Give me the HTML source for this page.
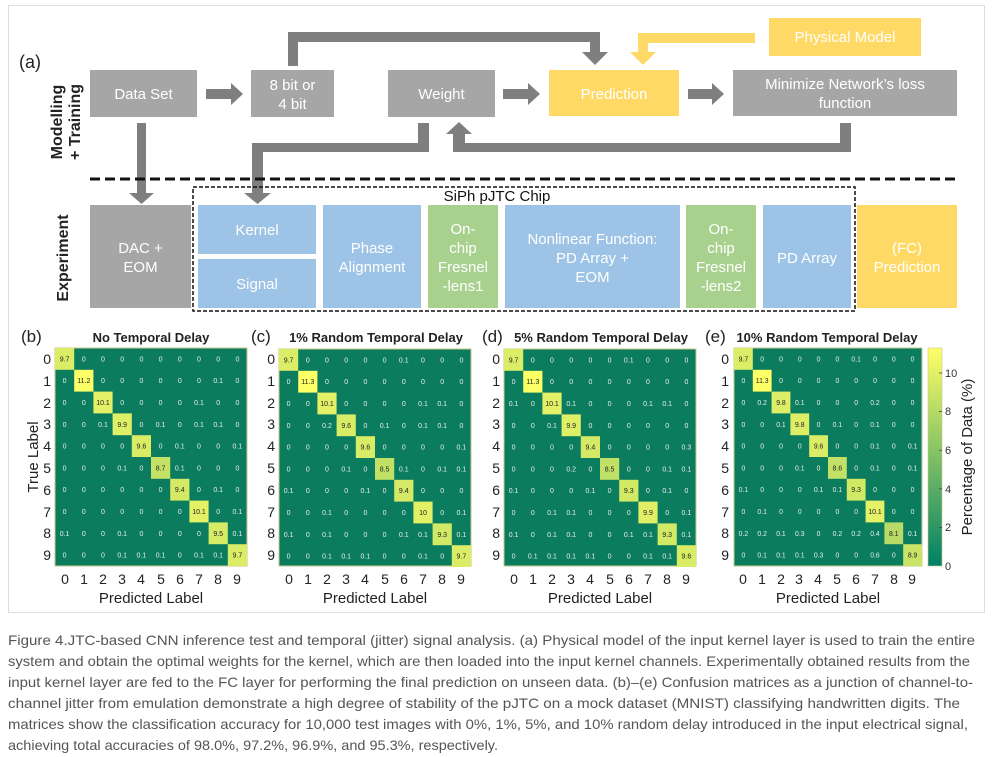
<!DOCTYPE html>
<html><head><meta charset="utf-8"><style>
html,body{margin:0;padding:0;background:#fff;width:995px;height:757px;overflow:hidden}
svg{display:block;font-family:"Liberation Sans",Arial,sans-serif}
.bx{fill:#fff;font-size:15px;text-anchor:middle}
.m text{font-size:7px;text-anchor:middle;fill:#e8efe9}
.m .dg{fill:#222}
.rl{font-size:14px;text-anchor:end;fill:#222}
.cl{font-size:14px;text-anchor:middle;fill:#222}
.tt{font-size:13px;font-weight:bold;text-anchor:middle;fill:#222}
.pl{font-size:17px;fill:#222}
.cap{font-size:14px;fill:#555}
</style></head><body>
<svg width="995" height="757" viewBox="0 0 995 757" xmlns="http://www.w3.org/2000/svg">
<rect x="8.5" y="5.5" width="976" height="607" fill="#fff" stroke="#ddd"/>
<!-- (a) -->
<text x="19" y="68" font-size="18" fill="#222">(a)</text>
<text transform="translate(62,122) rotate(-90)" font-size="16" font-weight="bold" text-anchor="middle" fill="#222">Modelling</text>
<text transform="translate(80,122) rotate(-90)" font-size="16" font-weight="bold" text-anchor="middle" fill="#222">+ Training</text>
<text transform="translate(68,258) rotate(-90)" font-size="16" font-weight="bold" text-anchor="middle" fill="#222">Experiment</text>

<!-- connectors -->
<g fill="#7f7f7f">
<rect x="288" y="32" width="10" height="34"/><rect x="288" y="32" width="312" height="10"/><rect x="590" y="32" width="10" height="22"/><polygon points="582,52 608,52 595,65"/>
<rect x="840" y="123" width="11" height="29"/><rect x="453" y="143" width="398" height="9"/><rect x="453" y="132" width="12" height="20"/><polygon points="446,134 472,134 459,122"/>
<rect x="418" y="123" width="11" height="29"/><rect x="252" y="143" width="177" height="9"/><rect x="252" y="143" width="11" height="52"/><polygon points="244,193 271,193 257.5,204"/>
<rect x="137" y="123" width="9" height="72"/><polygon points="129,193 154,193 141.5,204"/>
<rect x="206" y="89" width="26" height="10"/><polygon points="231,83 243,94 231,105"/>
<rect x="503" y="89" width="26" height="10"/><polygon points="528,83 540,94 528,105"/>
<rect x="688" y="89" width="25" height="10"/><polygon points="712,83 724,94 712,105"/>
</g>
<g fill="#ffd966"><rect x="638" y="33" width="117" height="10"/><rect x="638" y="33" width="10" height="21"/><polygon points="630,52 656,52 643,65"/></g>

<!-- top boxes -->
<rect x="90" y="70" width="107" height="47" fill="#a6a6a6"/><text class="bx" x="143.5" y="99">Data Set</text>
<rect x="251" y="70" width="83" height="47" fill="#a6a6a6"/><text class="bx" x="292.5" y="90">8 bit or</text><text class="bx" x="292.5" y="109">4 bit</text>
<rect x="388" y="70" width="107" height="47" fill="#a6a6a6"/><text class="bx" x="441.5" y="99">Weight</text>
<rect x="549" y="70" width="130" height="46" fill="#ffd966"/><text class="bx" x="614" y="99">Prediction</text>
<rect x="733" y="70" width="224" height="46" fill="#a6a6a6"/><text class="bx" x="845" y="89">Minimize Network’s loss</text><text class="bx" x="845" y="108">function</text>
<rect x="769" y="18" width="152" height="38" fill="#ffd966"/><text class="bx" x="845" y="42">Physical Model</text>

<line x1="90" y1="179" x2="957" y2="179" stroke="#111" stroke-width="3" stroke-dasharray="10,5"/>
<rect x="193" y="187" width="662" height="124" fill="none" stroke="#111" stroke-width="1.5" stroke-dasharray="4,2"/>
<text x="497" y="201" font-size="15" text-anchor="middle" fill="#111">SiPh pJTC Chip</text>

<rect x="90" y="205" width="101" height="103" fill="#a6a6a6"/><text class="bx" x="140.5" y="253">DAC +</text><text class="bx" x="140.5" y="272">EOM</text>
<rect x="198" y="205" width="118" height="49" fill="#9dc3e6"/><text class="bx" x="257" y="235">Kernel</text>
<rect x="198" y="259" width="118" height="49" fill="#9dc3e6"/><text class="bx" x="257" y="289">Signal</text>
<rect x="323" y="205" width="98" height="103" fill="#9dc3e6"/><text class="bx" x="372" y="253">Phase</text><text class="bx" x="372" y="272">Alignment</text>
<rect x="428" y="205" width="70" height="103" fill="#a9d18e"/><text class="bx" x="463" y="234">On-</text><text class="bx" x="463" y="253">chip</text><text class="bx" x="463" y="272">Fresnel</text><text class="bx" x="463" y="291">-lens1</text>
<rect x="505" y="205" width="175" height="103" fill="#9dc3e6"/><text class="bx" x="592.5" y="244">Nonlinear Function:</text><text class="bx" x="592.5" y="263">PD Array +</text><text class="bx" x="592.5" y="282">EOM</text>
<rect x="686" y="205" width="70" height="103" fill="#a9d18e"/><text class="bx" x="721" y="234">On-</text><text class="bx" x="721" y="253">chip</text><text class="bx" x="721" y="272">Fresnel</text><text class="bx" x="721" y="291">-lens2</text>
<rect x="763" y="205" width="88" height="103" fill="#9dc3e6"/><text class="bx" x="807" y="263">PD Array</text>
<rect x="857" y="205" width="100" height="103" fill="#ffd966"/><text class="bx" x="907" y="253">(FC)</text><text class="bx" x="907" y="272">Prediction</text>

<!-- panel b -->
<text class="pl" x="21" y="342">(b)</text><text class="tt" x="151" y="342">No Temporal Delay</text>
<text transform="translate(38,457) rotate(-90)" font-size="15" text-anchor="middle" fill="#222">True Label</text>
<g class="rl"><text x="51" y="364">0</text><text x="51" y="386">1</text><text x="51" y="408">2</text><text x="51" y="429">3</text><text x="51" y="451">4</text><text x="51" y="473">5</text><text x="51" y="495">6</text><text x="51" y="517">7</text><text x="51" y="538">8</text><text x="51" y="560">9</text></g>
<g class="cl"><text x="65" y="584">0</text><text x="84" y="584">1</text><text x="103" y="584">2</text><text x="122" y="584">3</text><text x="141" y="584">4</text><text x="161" y="584">5</text><text x="180" y="584">6</text><text x="199" y="584">7</text><text x="218" y="584">8</text><text x="237" y="584">9</text></g>
<text x="151" y="603" font-size="15" text-anchor="middle" fill="#222">Predicted Label</text>
<g class="m" transform="translate(55,348)">
<rect width="192" height="218" fill="#0b7d5e" stroke="#c9c98a"/>
<rect x="0" y="0" width="19.2" height="21.8" fill="rgb(219,237,102)"/><rect x="19.2" y="21.8" width="19.2" height="21.8" fill="rgb(253,254,102)"/><rect x="38.4" y="43.6" width="19.2" height="21.8" fill="rgb(228,241,102)"/><rect x="57.6" y="65.4" width="19.2" height="21.8" fill="rgb(223,239,102)"/><rect x="76.8" y="87.2" width="19.2" height="21.8" fill="rgb(217,236,102)"/><rect x="96" y="109" width="19.2" height="21.8" fill="rgb(196,226,102)"/><rect x="115.2" y="130.8" width="19.2" height="21.8" fill="rgb(212,234,102)"/><rect x="134.4" y="152.6" width="19.2" height="21.8" fill="rgb(228,241,102)"/><rect x="153.6" y="174.4" width="19.2" height="21.8" fill="rgb(214,235,102)"/><rect x="172.8" y="196.2" width="19.2" height="21.8" fill="rgb(219,237,102)"/>
<text y="13.4"><tspan class="dg" x="9.6">9.7</tspan><tspan x="28.8">0</tspan><tspan x="48">0</tspan><tspan x="67.2">0</tspan><tspan x="86.4">0</tspan><tspan x="105.6">0</tspan><tspan x="124.8">0</tspan><tspan x="144">0</tspan><tspan x="163.2">0</tspan><tspan x="182.4">0</tspan></text>
<text y="35.2"><tspan x="9.6">0</tspan><tspan class="dg" x="28.8">11.2</tspan><tspan x="48">0</tspan><tspan x="67.2">0</tspan><tspan x="86.4">0</tspan><tspan x="105.6">0</tspan><tspan x="124.8">0</tspan><tspan x="144">0</tspan><tspan x="163.2">0.1</tspan><tspan x="182.4">0</tspan></text>
<text y="57"><tspan x="9.6">0</tspan><tspan x="28.8">0</tspan><tspan class="dg" x="48">10.1</tspan><tspan x="67.2">0</tspan><tspan x="86.4">0</tspan><tspan x="105.6">0</tspan><tspan x="124.8">0</tspan><tspan x="144">0.1</tspan><tspan x="163.2">0</tspan><tspan x="182.4">0</tspan></text>
<text y="78.8"><tspan x="9.6">0</tspan><tspan x="28.8">0</tspan><tspan x="48">0.1</tspan><tspan class="dg" x="67.2">9.9</tspan><tspan x="86.4">0</tspan><tspan x="105.6">0.1</tspan><tspan x="124.8">0</tspan><tspan x="144">0.1</tspan><tspan x="163.2">0.1</tspan><tspan x="182.4">0</tspan></text>
<text y="100.6"><tspan x="9.6">0</tspan><tspan x="28.8">0</tspan><tspan x="48">0</tspan><tspan x="67.2">0</tspan><tspan class="dg" x="86.4">9.6</tspan><tspan x="105.6">0</tspan><tspan x="124.8">0.1</tspan><tspan x="144">0</tspan><tspan x="163.2">0</tspan><tspan x="182.4">0.1</tspan></text>
<text y="122.4"><tspan x="9.6">0</tspan><tspan x="28.8">0</tspan><tspan x="48">0</tspan><tspan x="67.2">0.1</tspan><tspan x="86.4">0</tspan><tspan class="dg" x="105.6">8.7</tspan><tspan x="124.8">0.1</tspan><tspan x="144">0</tspan><tspan x="163.2">0</tspan><tspan x="182.4">0</tspan></text>
<text y="144.2"><tspan x="9.6">0</tspan><tspan x="28.8">0</tspan><tspan x="48">0</tspan><tspan x="67.2">0</tspan><tspan x="86.4">0</tspan><tspan x="105.6">0</tspan><tspan class="dg" x="124.8">9.4</tspan><tspan x="144">0</tspan><tspan x="163.2">0.1</tspan><tspan x="182.4">0</tspan></text>
<text y="166"><tspan x="9.6">0</tspan><tspan x="28.8">0</tspan><tspan x="48">0</tspan><tspan x="67.2">0</tspan><tspan x="86.4">0</tspan><tspan x="105.6">0</tspan><tspan x="124.8">0</tspan><tspan class="dg" x="144">10.1</tspan><tspan x="163.2">0</tspan><tspan x="182.4">0.1</tspan></text>
<text y="187.8"><tspan x="9.6">0.1</tspan><tspan x="28.8">0</tspan><tspan x="48">0</tspan><tspan x="67.2">0.1</tspan><tspan x="86.4">0</tspan><tspan x="105.6">0</tspan><tspan x="124.8">0</tspan><tspan x="144">0</tspan><tspan class="dg" x="163.2">9.5</tspan><tspan x="182.4">0.1</tspan></text>
<text y="209.6"><tspan x="9.6">0</tspan><tspan x="28.8">0</tspan><tspan x="48">0</tspan><tspan x="67.2">0.1</tspan><tspan x="86.4">0.1</tspan><tspan x="105.6">0.1</tspan><tspan x="124.8">0</tspan><tspan x="144">0.1</tspan><tspan x="163.2">0.1</tspan><tspan class="dg" x="182.4">9.7</tspan></text>
</g>

<!-- panel c -->
<text class="pl" x="251" y="342">(c)</text><text class="tt" x="376" y="342">1% Random Temporal Delay</text>
<g class="rl"><text x="275" y="364">0</text><text x="275" y="386">1</text><text x="275" y="408">2</text><text x="275" y="429">3</text><text x="275" y="451">4</text><text x="275" y="473">5</text><text x="275" y="495">6</text><text x="275" y="517">7</text><text x="275" y="538">8</text><text x="275" y="560">9</text></g>
<g class="cl"><text x="289" y="584">0</text><text x="308" y="584">1</text><text x="327" y="584">2</text><text x="346" y="584">3</text><text x="365" y="584">4</text><text x="385" y="584">5</text><text x="404" y="584">6</text><text x="423" y="584">7</text><text x="442" y="584">8</text><text x="461" y="584">9</text></g>
<text x="375" y="603" font-size="15" text-anchor="middle" fill="#222">Predicted Label</text>
<g class="m" transform="translate(279,349)">
<rect width="192" height="217" fill="#0b7d5e" stroke="#c9c98a"/>
<rect x="0" y="0" width="19.2" height="21.8" fill="rgb(219,237,102)"/><rect x="19.2" y="21.8" width="19.2" height="21.8" fill="rgb(255,255,102)"/><rect x="38.4" y="43.6" width="19.2" height="21.8" fill="rgb(228,241,102)"/><rect x="57.6" y="65.4" width="19.2" height="21.8" fill="rgb(217,236,102)"/><rect x="76.8" y="87.2" width="19.2" height="21.8" fill="rgb(217,236,102)"/><rect x="96" y="109" width="19.2" height="21.8" fill="rgb(192,224,102)"/><rect x="115.2" y="130.8" width="19.2" height="21.8" fill="rgb(212,234,102)"/><rect x="134.4" y="152.6" width="19.2" height="21.8" fill="rgb(226,240,102)"/><rect x="153.6" y="174.4" width="19.2" height="21.8" fill="rgb(210,233,102)"/><rect x="172.8" y="196.2" width="19.2" height="21.8" fill="rgb(219,237,102)"/>
<text y="13.4"><tspan class="dg" x="9.6">9.7</tspan><tspan x="28.8">0</tspan><tspan x="48">0</tspan><tspan x="67.2">0</tspan><tspan x="86.4">0</tspan><tspan x="105.6">0</tspan><tspan x="124.8">0.1</tspan><tspan x="144">0</tspan><tspan x="163.2">0</tspan><tspan x="182.4">0</tspan></text>
<text y="35.2"><tspan x="9.6">0</tspan><tspan class="dg" x="28.8">11.3</tspan><tspan x="48">0</tspan><tspan x="67.2">0</tspan><tspan x="86.4">0</tspan><tspan x="105.6">0</tspan><tspan x="124.8">0</tspan><tspan x="144">0</tspan><tspan x="163.2">0</tspan><tspan x="182.4">0</tspan></text>
<text y="57"><tspan x="9.6">0</tspan><tspan x="28.8">0</tspan><tspan class="dg" x="48">10.1</tspan><tspan x="67.2">0</tspan><tspan x="86.4">0</tspan><tspan x="105.6">0</tspan><tspan x="124.8">0</tspan><tspan x="144">0.1</tspan><tspan x="163.2">0.1</tspan><tspan x="182.4">0</tspan></text>
<text y="78.8"><tspan x="9.6">0</tspan><tspan x="28.8">0</tspan><tspan x="48">0.2</tspan><tspan class="dg" x="67.2">9.6</tspan><tspan x="86.4">0</tspan><tspan x="105.6">0.1</tspan><tspan x="124.8">0</tspan><tspan x="144">0.1</tspan><tspan x="163.2">0.1</tspan><tspan x="182.4">0</tspan></text>
<text y="100.6"><tspan x="9.6">0</tspan><tspan x="28.8">0</tspan><tspan x="48">0</tspan><tspan x="67.2">0</tspan><tspan class="dg" x="86.4">9.6</tspan><tspan x="105.6">0</tspan><tspan x="124.8">0</tspan><tspan x="144">0</tspan><tspan x="163.2">0</tspan><tspan x="182.4">0.1</tspan></text>
<text y="122.4"><tspan x="9.6">0</tspan><tspan x="28.8">0</tspan><tspan x="48">0</tspan><tspan x="67.2">0.1</tspan><tspan x="86.4">0</tspan><tspan class="dg" x="105.6">8.5</tspan><tspan x="124.8">0.1</tspan><tspan x="144">0</tspan><tspan x="163.2">0.1</tspan><tspan x="182.4">0.1</tspan></text>
<text y="144.2"><tspan x="9.6">0.1</tspan><tspan x="28.8">0</tspan><tspan x="48">0</tspan><tspan x="67.2">0</tspan><tspan x="86.4">0.1</tspan><tspan x="105.6">0</tspan><tspan class="dg" x="124.8">9.4</tspan><tspan x="144">0</tspan><tspan x="163.2">0</tspan><tspan x="182.4">0</tspan></text>
<text y="166"><tspan x="9.6">0</tspan><tspan x="28.8">0</tspan><tspan x="48">0.1</tspan><tspan x="67.2">0</tspan><tspan x="86.4">0</tspan><tspan x="105.6">0</tspan><tspan x="124.8">0</tspan><tspan class="dg" x="144">10</tspan><tspan x="163.2">0</tspan><tspan x="182.4">0.1</tspan></text>
<text y="187.8"><tspan x="9.6">0.1</tspan><tspan x="28.8">0</tspan><tspan x="48">0.1</tspan><tspan x="67.2">0</tspan><tspan x="86.4">0</tspan><tspan x="105.6">0</tspan><tspan x="124.8">0.1</tspan><tspan x="144">0.1</tspan><tspan class="dg" x="163.2">9.3</tspan><tspan x="182.4">0.1</tspan></text>
<text y="209.6"><tspan x="9.6">0</tspan><tspan x="28.8">0</tspan><tspan x="48">0.1</tspan><tspan x="67.2">0.1</tspan><tspan x="86.4">0.1</tspan><tspan x="105.6">0</tspan><tspan x="124.8">0</tspan><tspan x="144">0.1</tspan><tspan x="163.2">0</tspan><tspan class="dg" x="182.4">9.7</tspan></text>
</g>

<!-- panel d -->
<text class="pl" x="482" y="342">(d)</text><text class="tt" x="601" y="342">5% Random Temporal Delay</text>
<g class="rl"><text x="500" y="364">0</text><text x="500" y="386">1</text><text x="500" y="408">2</text><text x="500" y="429">3</text><text x="500" y="451">4</text><text x="500" y="473">5</text><text x="500" y="495">6</text><text x="500" y="517">7</text><text x="500" y="538">8</text><text x="500" y="560">9</text></g>
<g class="cl"><text x="514" y="584">0</text><text x="533" y="584">1</text><text x="552" y="584">2</text><text x="571" y="584">3</text><text x="590" y="584">4</text><text x="610" y="584">5</text><text x="629" y="584">6</text><text x="648" y="584">7</text><text x="667" y="584">8</text><text x="686" y="584">9</text></g>
<text x="600" y="603" font-size="15" text-anchor="middle" fill="#222">Predicted Label</text>
<g class="m" transform="translate(504,349)">
<rect width="192" height="217" fill="#0b7d5e" stroke="#c9c98a"/>
<rect x="0" y="0" width="19.2" height="21.8" fill="rgb(219,237,102)"/><rect x="19.2" y="21.8" width="19.2" height="21.8" fill="rgb(255,255,102)"/><rect x="38.4" y="43.6" width="19.2" height="21.8" fill="rgb(228,241,102)"/><rect x="57.6" y="65.4" width="19.2" height="21.8" fill="rgb(223,239,102)"/><rect x="76.8" y="87.2" width="19.2" height="21.8" fill="rgb(212,234,102)"/><rect x="96" y="109" width="19.2" height="21.8" fill="rgb(192,224,102)"/><rect x="115.2" y="130.8" width="19.2" height="21.8" fill="rgb(210,233,102)"/><rect x="134.4" y="152.6" width="19.2" height="21.8" fill="rgb(223,239,102)"/><rect x="153.6" y="174.4" width="19.2" height="21.8" fill="rgb(210,233,102)"/><rect x="172.8" y="196.2" width="19.2" height="21.8" fill="rgb(217,236,102)"/>
<text y="13.4"><tspan class="dg" x="9.6">9.7</tspan><tspan x="28.8">0</tspan><tspan x="48">0</tspan><tspan x="67.2">0</tspan><tspan x="86.4">0</tspan><tspan x="105.6">0</tspan><tspan x="124.8">0.1</tspan><tspan x="144">0</tspan><tspan x="163.2">0</tspan><tspan x="182.4">0</tspan></text>
<text y="35.2"><tspan x="9.6">0</tspan><tspan class="dg" x="28.8">11.3</tspan><tspan x="48">0</tspan><tspan x="67.2">0</tspan><tspan x="86.4">0</tspan><tspan x="105.6">0</tspan><tspan x="124.8">0</tspan><tspan x="144">0</tspan><tspan x="163.2">0</tspan><tspan x="182.4">0</tspan></text>
<text y="57"><tspan x="9.6">0.1</tspan><tspan x="28.8">0</tspan><tspan class="dg" x="48">10.1</tspan><tspan x="67.2">0.1</tspan><tspan x="86.4">0</tspan><tspan x="105.6">0</tspan><tspan x="124.8">0</tspan><tspan x="144">0.1</tspan><tspan x="163.2">0.1</tspan><tspan x="182.4">0</tspan></text>
<text y="78.8"><tspan x="9.6">0</tspan><tspan x="28.8">0</tspan><tspan x="48">0.1</tspan><tspan class="dg" x="67.2">9.9</tspan><tspan x="86.4">0</tspan><tspan x="105.6">0</tspan><tspan x="124.8">0</tspan><tspan x="144">0</tspan><tspan x="163.2">0</tspan><tspan x="182.4">0</tspan></text>
<text y="100.6"><tspan x="9.6">0</tspan><tspan x="28.8">0</tspan><tspan x="48">0</tspan><tspan x="67.2">0</tspan><tspan class="dg" x="86.4">9.4</tspan><tspan x="105.6">0</tspan><tspan x="124.8">0</tspan><tspan x="144">0</tspan><tspan x="163.2">0</tspan><tspan x="182.4">0.3</tspan></text>
<text y="122.4"><tspan x="9.6">0</tspan><tspan x="28.8">0</tspan><tspan x="48">0</tspan><tspan x="67.2">0.2</tspan><tspan x="86.4">0</tspan><tspan class="dg" x="105.6">8.5</tspan><tspan x="124.8">0</tspan><tspan x="144">0</tspan><tspan x="163.2">0.1</tspan><tspan x="182.4">0.1</tspan></text>
<text y="144.2"><tspan x="9.6">0.1</tspan><tspan x="28.8">0</tspan><tspan x="48">0</tspan><tspan x="67.2">0</tspan><tspan x="86.4">0.1</tspan><tspan x="105.6">0</tspan><tspan class="dg" x="124.8">9.3</tspan><tspan x="144">0</tspan><tspan x="163.2">0.1</tspan><tspan x="182.4">0</tspan></text>
<text y="166"><tspan x="9.6">0</tspan><tspan x="28.8">0</tspan><tspan x="48">0.1</tspan><tspan x="67.2">0.1</tspan><tspan x="86.4">0</tspan><tspan x="105.6">0</tspan><tspan x="124.8">0</tspan><tspan class="dg" x="144">9.9</tspan><tspan x="163.2">0</tspan><tspan x="182.4">0.1</tspan></text>
<text y="187.8"><tspan x="9.6">0.1</tspan><tspan x="28.8">0</tspan><tspan x="48">0.1</tspan><tspan x="67.2">0.1</tspan><tspan x="86.4">0</tspan><tspan x="105.6">0</tspan><tspan x="124.8">0.1</tspan><tspan x="144">0.1</tspan><tspan class="dg" x="163.2">9.3</tspan><tspan x="182.4">0.1</tspan></text>
<text y="209.6"><tspan x="9.6">0</tspan><tspan x="28.8">0.1</tspan><tspan x="48">0.1</tspan><tspan x="67.2">0.1</tspan><tspan x="86.4">0.1</tspan><tspan x="105.6">0</tspan><tspan x="124.8">0</tspan><tspan x="144">0.1</tspan><tspan x="163.2">0.1</tspan><tspan class="dg" x="182.4">9.6</tspan></text>
</g>

<!-- panel e -->
<text class="pl" x="705" y="342">(e)</text><text class="tt" x="827" y="342">10% Random Temporal Delay</text>
<g class="rl"><text x="729" y="364">0</text><text x="729" y="386">1</text><text x="729" y="408">2</text><text x="729" y="429">3</text><text x="729" y="451">4</text><text x="729" y="473">5</text><text x="729" y="495">6</text><text x="729" y="517">7</text><text x="729" y="538">8</text><text x="729" y="560">9</text></g>
<g class="cl"><text x="743" y="584">0</text><text x="762" y="584">1</text><text x="781" y="584">2</text><text x="799" y="584">3</text><text x="818" y="584">4</text><text x="837" y="584">5</text><text x="856" y="584">6</text><text x="875" y="584">7</text><text x="894" y="584">8</text><text x="912" y="584">9</text></g>
<text x="828" y="603" font-size="15" text-anchor="middle" fill="#222">Predicted Label</text>
<g class="m" transform="translate(734,348) scale(0.979,1)">
<rect width="192" height="218" fill="#0b7d5e" stroke="#c9c98a"/>
<rect x="0" y="0" width="19.2" height="21.8" fill="rgb(219,237,102)"/><rect x="19.2" y="21.8" width="19.2" height="21.8" fill="rgb(255,255,102)"/><rect x="38.4" y="43.6" width="19.2" height="21.8" fill="rgb(221,238,102)"/><rect x="57.6" y="65.4" width="19.2" height="21.8" fill="rgb(221,238,102)"/><rect x="76.8" y="87.2" width="19.2" height="21.8" fill="rgb(217,236,102)"/><rect x="96" y="109" width="19.2" height="21.8" fill="rgb(194,225,102)"/><rect x="115.2" y="130.8" width="19.2" height="21.8" fill="rgb(210,233,102)"/><rect x="134.4" y="152.6" width="19.2" height="21.8" fill="rgb(228,241,102)"/><rect x="153.6" y="174.4" width="19.2" height="21.8" fill="rgb(183,219,102)"/><rect x="172.8" y="196.2" width="19.2" height="21.8" fill="rgb(201,228,102)"/>
<text y="13.4"><tspan class="dg" x="9.6">9.7</tspan><tspan x="28.8">0</tspan><tspan x="48">0</tspan><tspan x="67.2">0</tspan><tspan x="86.4">0</tspan><tspan x="105.6">0</tspan><tspan x="124.8">0.1</tspan><tspan x="144">0</tspan><tspan x="163.2">0</tspan><tspan x="182.4">0</tspan></text>
<text y="35.2"><tspan x="9.6">0</tspan><tspan class="dg" x="28.8">11.3</tspan><tspan x="48">0</tspan><tspan x="67.2">0</tspan><tspan x="86.4">0</tspan><tspan x="105.6">0</tspan><tspan x="124.8">0</tspan><tspan x="144">0</tspan><tspan x="163.2">0</tspan><tspan x="182.4">0</tspan></text>
<text y="57"><tspan x="9.6">0</tspan><tspan x="28.8">0.2</tspan><tspan class="dg" x="48">9.8</tspan><tspan x="67.2">0.1</tspan><tspan x="86.4">0</tspan><tspan x="105.6">0</tspan><tspan x="124.8">0</tspan><tspan x="144">0.2</tspan><tspan x="163.2">0</tspan><tspan x="182.4">0</tspan></text>
<text y="78.8"><tspan x="9.6">0</tspan><tspan x="28.8">0</tspan><tspan x="48">0.1</tspan><tspan class="dg" x="67.2">9.8</tspan><tspan x="86.4">0</tspan><tspan x="105.6">0.1</tspan><tspan x="124.8">0</tspan><tspan x="144">0.1</tspan><tspan x="163.2">0</tspan><tspan x="182.4">0</tspan></text>
<text y="100.6"><tspan x="9.6">0</tspan><tspan x="28.8">0</tspan><tspan x="48">0</tspan><tspan x="67.2">0</tspan><tspan class="dg" x="86.4">9.6</tspan><tspan x="105.6">0</tspan><tspan x="124.8">0</tspan><tspan x="144">0.1</tspan><tspan x="163.2">0</tspan><tspan x="182.4">0.1</tspan></text>
<text y="122.4"><tspan x="9.6">0</tspan><tspan x="28.8">0</tspan><tspan x="48">0</tspan><tspan x="67.2">0.1</tspan><tspan x="86.4">0</tspan><tspan class="dg" x="105.6">8.6</tspan><tspan x="124.8">0</tspan><tspan x="144">0.1</tspan><tspan x="163.2">0</tspan><tspan x="182.4">0.1</tspan></text>
<text y="144.2"><tspan x="9.6">0.1</tspan><tspan x="28.8">0</tspan><tspan x="48">0</tspan><tspan x="67.2">0</tspan><tspan x="86.4">0.1</tspan><tspan x="105.6">0.1</tspan><tspan class="dg" x="124.8">9.3</tspan><tspan x="144">0</tspan><tspan x="163.2">0</tspan><tspan x="182.4">0</tspan></text>
<text y="166"><tspan x="9.6">0</tspan><tspan x="28.8">0.1</tspan><tspan x="48">0</tspan><tspan x="67.2">0</tspan><tspan x="86.4">0</tspan><tspan x="105.6">0</tspan><tspan x="124.8">0</tspan><tspan class="dg" x="144">10.1</tspan><tspan x="163.2">0</tspan><tspan x="182.4">0</tspan></text>
<text y="187.8"><tspan x="9.6">0.2</tspan><tspan x="28.8">0.2</tspan><tspan x="48">0.1</tspan><tspan x="67.2">0.3</tspan><tspan x="86.4">0</tspan><tspan x="105.6">0.2</tspan><tspan x="124.8">0.2</tspan><tspan x="144">0.4</tspan><tspan class="dg" x="163.2">8.1</tspan><tspan x="182.4">0.1</tspan></text>
<text y="209.6"><tspan x="9.6">0</tspan><tspan x="28.8">0.1</tspan><tspan x="48">0.1</tspan><tspan x="67.2">0.1</tspan><tspan x="86.4">0.3</tspan><tspan x="105.6">0</tspan><tspan x="124.8">0</tspan><tspan x="144">0.6</tspan><tspan x="163.2">0</tspan><tspan class="dg" x="182.4">8.9</tspan></text>
</g>

<!-- colorbar -->
<defs><linearGradient id="cb" x1="0" y1="1" x2="0" y2="0"><stop offset="0" stop-color="#008066"/><stop offset="1" stop-color="#ffff66"/></linearGradient></defs>
<rect x="928" y="348" width="14" height="218" fill="url(#cb)" stroke="#c9c98a" stroke-width="0.6"/>
<g stroke="#444" stroke-width="0.8"><line x1="939" y1="527.4" x2="942" y2="527.4"/><line x1="939" y1="488.8" x2="942" y2="488.8"/><line x1="939" y1="450.2" x2="942" y2="450.2"/><line x1="939" y1="411.6" x2="942" y2="411.6"/><line x1="939" y1="373" x2="942" y2="373"/></g>
<g font-size="11" fill="#333"><text x="945" y="570">0</text><text x="945" y="531">2</text><text x="945" y="493">4</text><text x="945" y="454">6</text><text x="945" y="415">8</text><text x="945" y="377">10</text></g>
<text transform="translate(972,457) rotate(-90)" font-size="15" text-anchor="middle" fill="#222">Percentage of Data (%)</text>

<!-- caption -->
<g class="cap">
<text x="8" y="645" textLength="967" lengthAdjust="spacingAndGlyphs">Figure 4.JTC-based CNN inference test and temporal (jitter) signal analysis. (a) Physical model of the input kernel layer is used to train the entire</text>
<text x="8" y="666" textLength="962" lengthAdjust="spacingAndGlyphs">system and obtain the optimal weights for the kernel, which are then loaded into the input kernel channels. Experimentally obtained results from the</text>
<text x="8" y="687" textLength="965" lengthAdjust="spacingAndGlyphs">input kernel layer are fed to the FC layer for performing the final prediction on unseen data. (b)–(e) Confusion matrices as a junction of channel-to-</text>
<text x="8" y="708" textLength="952" lengthAdjust="spacingAndGlyphs">channel jitter from emulation demonstrate a high degree of stability of the pJTC on a mock dataset (MNIST) classifying handwritten digits. The</text>
<text x="8" y="729" textLength="960" lengthAdjust="spacingAndGlyphs">matrices show the classification accuracy for 10,000 test images with 0%, 1%, 5%, and 10% random delay introduced in the input electrical signal,</text>
<text x="8" y="750" textLength="490" lengthAdjust="spacingAndGlyphs">achieving total accuracies of 98.0%, 97.2%, 96.9%, and 95.3%, respectively.</text>
</g>
</svg>
</body></html>
